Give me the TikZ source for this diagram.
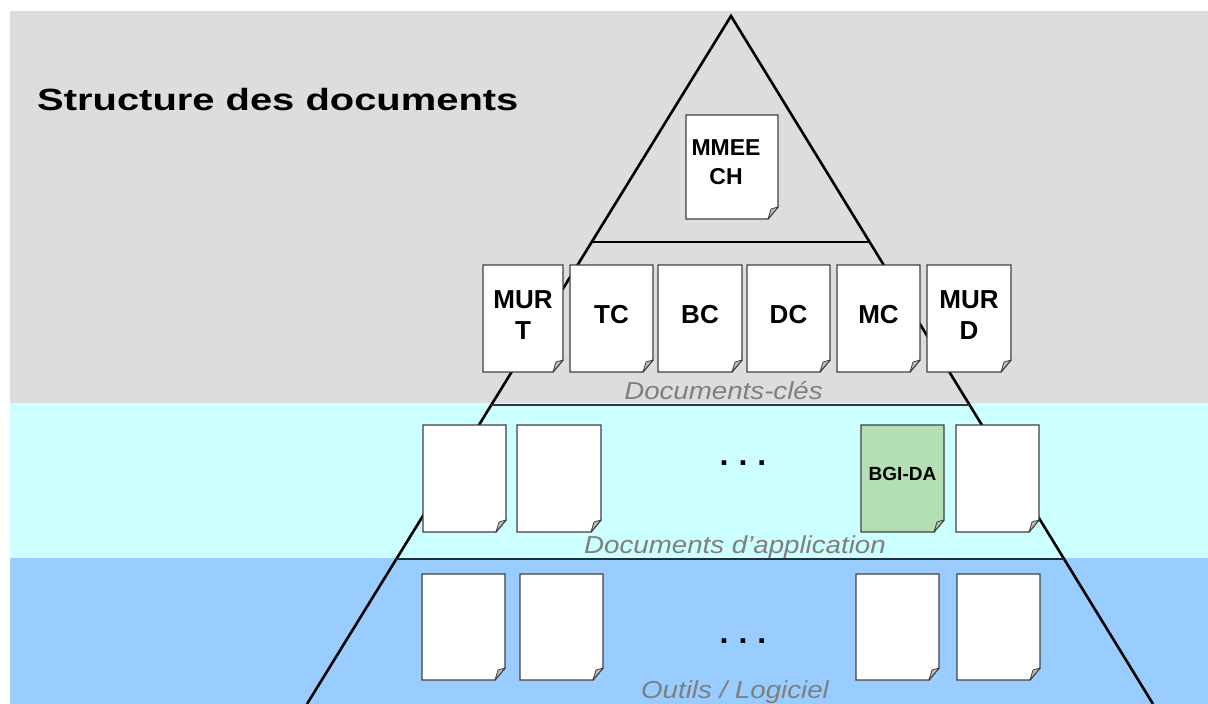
\documentclass[tikz,border=0pt]{standalone}
\usepackage{graphicx}
\usepackage{fontspec}
\setmainfont{Liberation Sans}
\usetikzlibrary{calc}

\definecolor{slidegrey}{HTML}{DDDDDD}
\definecolor{appcyan}{HTML}{CCFFFF}
\definecolor{toolblue}{HTML}{99CCFF}
\definecolor{docedge}{HTML}{404040}
\definecolor{foldgrey}{HTML}{BDBDBD}
\definecolor{bgigreen}{HTML}{B4DEB4}
\definecolor{labelgrey}{HTML}{7F7F7F}
\definecolor{cyanedge}{HTML}{2A3A3A}
\definecolor{blueedge}{HTML}{1F2F3F}

\tikzset{
  docbox/.style={inner sep=0pt, outer sep=0pt},
  docpaper/.style={draw=docedge, line width=1.4pt, line join=miter},
  docfold/.style={draw=docedge, line width=0.8pt, fill=foldgrey, line join=round},
  doctext/.style={font=\bfseries\fontsize{26pt}{31pt}\selectfont, align=center, inner sep=0pt},
  layertext/.style={font=\itshape\fontsize{24.5pt}{28pt}\selectfont, text=labelgrey, inner sep=0pt, anchor=base},
  pyramidedge/.style={line width=2.6pt, black, line join=miter},
  divider/.style={line width=1.6pt},
  moredots/.style={font=\bfseries\fontsize{32pt}{36pt}\selectfont, inner sep=0pt, anchor=base},
}

% A sheet of paper with a folded bottom-right corner:
% name, centre, width, height, fill colour
\newcommand\paperdoc[5]{%
  \node[docbox, minimum width=#3pt, minimum height=#4pt] (#1) at (#2) {};
  \filldraw[docpaper, fill=#5] (#1.north west) -- (#1.north east)
    -- ([yshift=12pt]#1.south east) -- ([xshift=-10pt]#1.south east)
    -- (#1.south west) -- cycle;
  \filldraw[docfold] ([yshift=12pt]#1.south east) -- ([xshift=-10pt]#1.south east)
    -- ([xshift=-7pt,yshift=10pt]#1.south east) -- cycle;
}

\begin{document}
\begin{tikzpicture}[x=1pt, y=-1pt]
\useasboundingbox (0,0) rectangle (1208,704);
\fill[white] (0,0) rectangle (1208,704);

% layer bands
\fill[slidegrey] (10,11) rectangle (1208,403);
\fill[appcyan] (10,403) rectangle (1208,558);
\fill[toolblue] (10,558) rectangle (1208,704);

% pyramid
\coordinate (apex) at (731,16);
\coordinate (footL) at (307,704);
\coordinate (footR) at (1153,704);
\draw[pyramidedge] (footL) -- (apex) -- (footR);

\coordinate (topL) at ($(apex)!0.3285!(footL)$);
\coordinate (topR) at ($(apex)!0.3285!(footR)$);
\coordinate (keyL) at ($(apex)!0.5654!(footL)$);
\coordinate (keyR) at ($(apex)!0.5654!(footR)$);
\coordinate (appL) at ($(apex)!0.7892!(footL)$);
\coordinate (appR) at ($(apex)!0.7892!(footR)$);
\draw[divider, black] (topL) -- (topR);
\draw[divider, cyanedge] (keyL) -- (keyR);
\draw[divider, blueedge] (appL) -- (appR);

% title
\node[anchor=base west, inner sep=0pt, font=\bfseries\fontsize{30.7pt}{36pt}\selectfont] (title) at (37,110)
  {\scalebox{1.3}[1]{Structure des documents}};

% top document
\paperdoc{mmeech}{732,167}{92}{104}{white}
\node[doctext, font=\bfseries\fontsize{23pt}{29pt}\selectfont] (mmeech-t) at ([xshift=-6pt,yshift=4.5pt]mmeech.center) {MMEE\\CH};

% key documents
\paperdoc{murt}{523,318.5}{80}{107}{white}
\paperdoc{tc}{611.5,318.5}{83}{107}{white}
\paperdoc{bc}{700,318.5}{84}{107}{white}
\paperdoc{dc}{788.5,318.5}{83}{107}{white}
\paperdoc{mc}{878.5,318.5}{83}{107}{white}
\paperdoc{murd}{969,318.5}{84}{107}{white}
\node[doctext] (murt-t) at ([yshift=3pt]murt.center) {MUR\\T};
\node[doctext] (tc-t) at ([yshift=3.5pt]tc.center) {TC};
\node[doctext] (bc-t) at ([yshift=3.5pt]bc.center) {BC};
\node[doctext] (dc-t) at ([yshift=3.5pt]dc.center) {DC};
\node[doctext] (mc-t) at ([yshift=3.5pt]mc.center) {MC};
\node[doctext] (murd-t) at ([yshift=3pt]murd.center) {MUR\\D};
\node[layertext] (keylabel) at (723.5,399) {\scalebox{1.13}[1]{Documents-clés}};

% application documents
\paperdoc{app1}{464.5,478.5}{83}{107}{white}
\paperdoc{app2}{559,478.5}{84}{107}{white}
\paperdoc{bgida}{902.5,478.5}{83}{107}{bgigreen}
\paperdoc{app4}{997.5,478.5}{83}{107}{white}
\node[doctext, font=\bfseries\fontsize{19pt}{22pt}\selectfont] (bgida-t) at ([yshift=4.5pt]bgida.center) {BGI-DA};
\node[moredots] (appdots) at (743,465) {.\hspace{10pt}.\hspace{10pt}.};
\node[layertext] (applabel) at (735,553) {\scalebox{1.13}[1]{Documents d'application}};

% tools / software
\paperdoc{tool1}{463.5,627}{83}{106}{white}
\paperdoc{tool2}{561.5,627}{83}{106}{white}
\paperdoc{tool3}{897.5,627}{83}{106}{white}
\paperdoc{tool4}{998.5,627}{83}{106}{white}
\node[moredots] (tooldots) at (743,643) {.\hspace{10pt}.\hspace{10pt}.};
\node[layertext] (toollabel) at (735,698) {\scalebox{1.13}[1]{Outils / Logiciel}};
\end{tikzpicture}
\end{document}
